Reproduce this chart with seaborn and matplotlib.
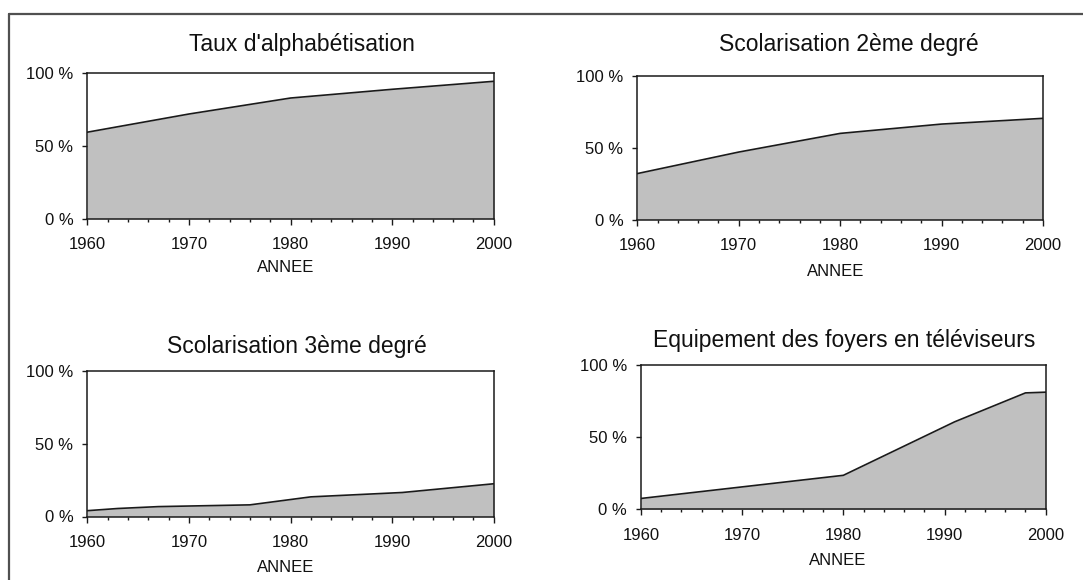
import matplotlib
matplotlib.use("Agg")
import matplotlib.pyplot as plt
from matplotlib.lines import Line2D
from matplotlib.ticker import FixedLocator, MultipleLocator
import pandas as pd
import seaborn as sns

# ---- data -------------------------------------------------------------
titles = ["Taux d'alphabétisation", "Scolarisation 2ème degré",
          "Scolarisation 3ème degré", "Equipement des foyers en téléviseurs"]

alpha_years = [1960, 1970, 1980, 1990, 2000]
alpha_pct = [59.5, 72, 83, 89, 94.5]

sec_years = [1960, 1970, 1980, 1990, 2000]
sec_pct = [32, 47, 60, 66.5, 70.5]

sup_years = [1960, 1963, 1967, 1976, 1982, 1991, 2000]
sup_pct = [4, 5.5, 6.8, 8, 13.5, 16.5, 22.5]

tv_years = [1960, 1980, 1991, 1998, 2000]
tv_pct = [7.5, 23.5, 60.5, 80.5, 81]

x_ticks = [1960, 1970, 1980, 1990, 2000]
y_ticks = [0, 50, 100]
y_ticklabels = ["0 %", "50 %", "100 %"]
x_label = "ANNEE"

series = [(alpha_years, alpha_pct), (sec_years, sec_pct),
          (sup_years, sup_pct), (tv_years, tv_pct)]

# ---- style ------------------------------------------------------------
sns.set_theme(style="white")
plt.rcParams["font.family"] = ["Liberation Sans", "DejaVu Sans"]

W, H = 1083, 580
fig = plt.figure(figsize=(W / 100, H / 100), dpi=100)
fig.patch.set_facecolor("white")

# plot boxes in pixels: left, top, right, bottom
boxes = [(87.3, 73.3, 493.8, 218.7),
         (637.3, 76.0, 1043.0, 219.5),
         (87.3, 371.0, 493.8, 516.5),
         (641.0, 364.7, 1045.7, 509.3)]
# title centre x and baseline y (pixels)
title_pos = [(301.5, 50.5), (848.5, 50.5), (296.5, 353.3), (844.0, 347.5)]
# axis-name centre x and baseline y (pixels)
xlabel_pos = [(285.5, 272.0), (836.0, 276.5), (285.5, 572.0), (838.0, 565.0)]

for (yrs, vals), box, tp, lp, title in zip(series, boxes, title_pos,
                                           xlabel_pos, titles):
    l, t, r, b = box
    ax = fig.add_axes([l / W, 1 - b / H, (r - l) / W, (b - t) / H])
    df = pd.DataFrame({"annee": yrs, "pct": vals})
    ax.fill_between(df["annee"], df["pct"], 0, color="#c0c0c0", lw=0, zorder=1)
    sns.lineplot(data=df, x="annee", y="pct", ax=ax, color="#1a1a1a",
                 lw=1.2, zorder=2, estimator=None)
    ax.set_xlim(1960, 2000)
    ax.set_ylim(0, 100)
    ax.set_facecolor("white")
    for sp in ax.spines.values():
        sp.set_visible(True)
        sp.set_color("#1a1a1a")
        sp.set_linewidth(1.1)
        sp.set_zorder(3)

    ax.xaxis.set_major_locator(FixedLocator(x_ticks))
    ax.xaxis.set_minor_locator(MultipleLocator(2))
    ax.yaxis.set_major_locator(FixedLocator(y_ticks))
    ax.set_xticklabels([str(v) for v in x_ticks])
    ax.set_yticklabels(y_ticklabels)
    ax.tick_params(axis="x", which="major", direction="out", length=4,
                   width=1.0, color="#1a1a1a", pad=9.5, bottom=True)
    ax.tick_params(axis="x", which="minor", direction="out", length=2.5,
                   width=1.0, color="#1a1a1a", bottom=True)
    ax.tick_params(axis="y", which="major", direction="out", length=3.5,
                   width=1.0, color="#1a1a1a", pad=6.5, left=True)
    for lab in ax.get_xticklabels() + ax.get_yticklabels():
        lab.set_fontsize(12)
        lab.set_color("#111111")

    ax.set_xlabel(x_label, fontsize=12, color="#111111", va="baseline")
    ax.xaxis.set_label_coords((lp[0] - l) / (r - l), (b - lp[1]) / (b - t))
    ax.set_ylabel("")
    ax.set_title(title, fontsize=16.5, color="#111111",
                 x=(tp[0] - l) / (r - l), y=(b - tp[1]) / (b - t), pad=0,
                 va="baseline")

# outer frame: top and left edges
fig.add_artist(Line2D([9.3 / W, 1.0], [1 - 14 / H, 1 - 14 / H],
                      transform=fig.transFigure, color="#505050", lw=1.6))
fig.add_artist(Line2D([9.3 / W, 9.3 / W], [0.0, 1 - 14 / H],
                      transform=fig.transFigure, color="#505050", lw=1.6))

fig.savefig("out.png", dpi=100)
